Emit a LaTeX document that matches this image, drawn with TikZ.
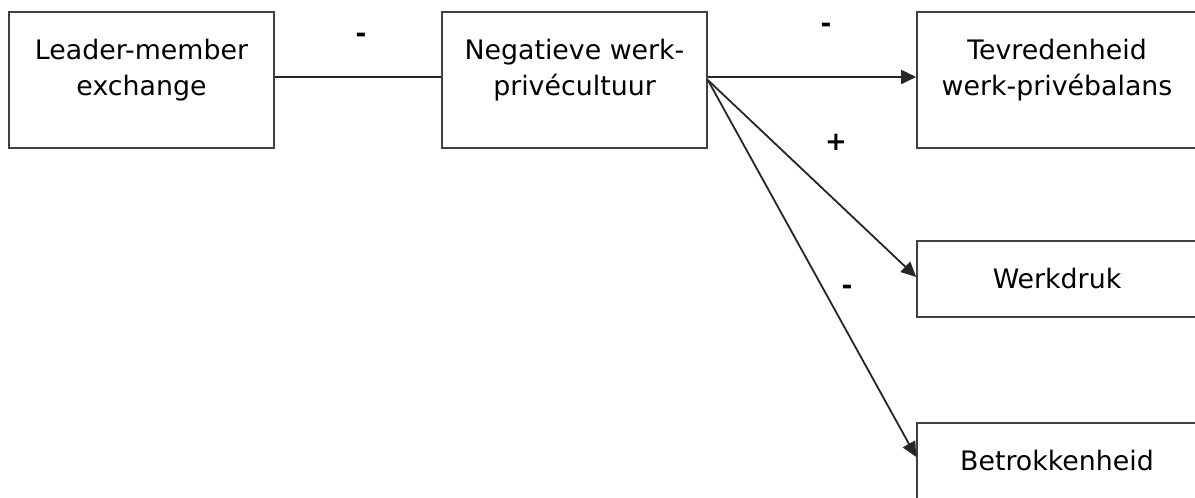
\documentclass[tikz,border=0pt]{standalone}
\usepackage{fontspec}
\setmainfont{DejaVu Sans}
\usetikzlibrary{positioning,arrows.meta}

\tikzset{
  bigbox/.style={draw=black!75,line width=0.8pt,align=center,inner sep=0pt,
    minimum width=132.5pt,text height=41.5pt,text depth=26.5pt,
    font=\fontsize{13.4}{18}\selectfont},
  smallbox/.style={draw=black!75,line width=0.8pt,inner sep=0pt,
    minimum width=140pt,minimum height=38pt,font=\fontsize{13.4}{18}\selectfont},
  link/.style={line width=0.9pt,black!85},
  arrow/.style={link,-{Triangle[length=7.5pt,width=7pt]}},
  sign/.style={inner sep=0pt,font=\fontsize{13}{18}\selectfont\bfseries}
}

\begin{document}
\begin{tikzpicture}[x=0.5pt,y=-0.5pt]
    \useasboundingbox (0,0) rectangle (1195,498);
    \clip (0,0) rectangle (1195,498);

    % Boxes
    \node[bigbox] (lmx) at (141.5,80) {Leader-member\\exchange};
    \node[bigbox] (nwp) at (574.5,80) {Negatieve werk-\\privécultuur};
    \node[bigbox,minimum width=140pt] (twp) at (1057,80) {Tevredenheid\\werk-privébalans};
    \node[smallbox] (wd) at (1057,279) {Werkdruk};
    \node[smallbox] (btk) at (1057,461) {Betrokkenheid};

    % Paths
    \draw[link] ([yshift=1.5pt]lmx.east) -- ([yshift=1.5pt]nwp.west);
    \draw[arrow] ([yshift=1.5pt]nwp.east) -- ([yshift=1.5pt]twp.west);
    \draw[arrow] (nwp.east) -- ([yshift=1pt]wd.west);
    \draw[arrow] (nwp.east) -- ([yshift=2pt]btk.west);

    % Signs
    \node[sign] (s1) at (361,38) {-};
    \node[sign] (s2) at (826,28) {-};
    \node[sign] (s3) at (836,142) {+};
    \node[sign] (s4) at (847,290) {-};
\end{tikzpicture}
\end{document}
